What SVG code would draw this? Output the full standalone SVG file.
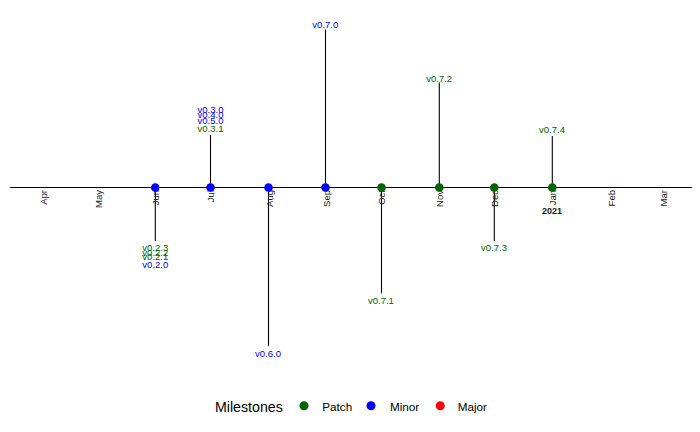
<svg xmlns="http://www.w3.org/2000/svg" width="700" height="432" viewBox="0 0 700 432">
<style>
text{font-family:"Liberation Sans",Arial,sans-serif}
.stem{stroke:#000;stroke-width:1.1}
.axis{stroke:#000;stroke-width:1.1}
.month{font-size:9.5px;fill:#1a1a1a;text-anchor:end}
.lbl{font-size:9.5px;text-anchor:middle}
.patch{fill:#006400}
.minor{fill:#0000FF}
.major{fill:#FF0000}
.leg{font-size:11.7px;fill:#000}
</style>
<rect width="700" height="432" fill="#fff"/>
<g id="connectors">
<line class="axis" x1="10" y1="187.5" x2="692" y2="187.5"/>
<line class="stem" x1="155.3" y1="187.5" x2="155.3" y2="241"/>
<line class="stem" x1="210.5" y1="187.5" x2="210.5" y2="135"/>
<line class="stem" x1="268.5" y1="187.5" x2="268.5" y2="346"/>
<line class="stem" x1="325.5" y1="187.5" x2="325.5" y2="29.5"/>
<line class="stem" x1="381.5" y1="187.5" x2="381.5" y2="293"/>
<line class="stem" x1="439.3" y1="187.5" x2="439.3" y2="82.5"/>
<line class="stem" x1="494.3" y1="187.5" x2="494.3" y2="241"/>
<line class="stem" x1="552.3" y1="187.5" x2="552.3" y2="136"/>
</g>
<g id="axis-labels">
<text class="month" transform="translate(46.6,190) rotate(-90)">Apr</text>
<text class="month" transform="translate(102.3,190) rotate(-90)">May</text>
<text class="month" transform="translate(159.3,190) rotate(-90)">Jun</text>
<text class="month" transform="translate(214,190) rotate(-90)">Jul</text>
<text class="month" transform="translate(272.6,190) rotate(-90)">Aug</text>
<text class="month" transform="translate(330,190) rotate(-90)">Sep</text>
<text class="month" transform="translate(385.3,190) rotate(-90)">Oct</text>
<text class="month" transform="translate(443.3,190) rotate(-90)">Nov</text>
<text class="month" transform="translate(498.3,190) rotate(-90)">Dec</text>
<text class="month" transform="translate(556,190) rotate(-90)">Jan</text>
<text class="month" transform="translate(615,190) rotate(-90)">Feb</text>
<text class="month" transform="translate(666.6,190) rotate(-90)">Mar</text>
<text x="552" y="213.5" font-size="9px" font-weight="bold" fill="#1a1a1a" text-anchor="middle">2021</text>
</g>
<g id="node-jun">
<circle class="minor" cx="155.3" cy="187.5" r="4.3"/>
<text class="lbl patch" x="155.3" y="251">v0.2.3</text>
<text class="lbl patch" x="155.3" y="255.5">v0.2.2</text>
<text class="lbl patch" x="155.3" y="259.5">v0.2.1</text>
<text class="lbl minor" x="155.3" y="267.5">v0.2.0</text>
</g>
<g id="node-jul">
<circle class="minor" cx="210.5" cy="187.5" r="4.3"/>
<text class="lbl minor" x="210.5" y="113.2">v0.3.0</text>
<text class="lbl minor" x="210.5" y="118.4">v0.4.0</text>
<text class="lbl minor" x="210.5" y="123.6">v0.5.0</text>
<text class="lbl patch" x="210.5" y="131.5">v0.3.1</text>
</g>
<g id="node-aug">
<circle class="minor" cx="268.5" cy="187.5" r="4.3"/>
<text class="lbl minor" x="268" y="356.7">v0.6.0</text>
</g>
<g id="node-sep">
<circle class="minor" cx="325.5" cy="187.5" r="4.3"/>
<text class="lbl minor" x="325.3" y="28.4">v0.7.0</text>
</g>
<g id="node-oct">
<circle class="patch" cx="381.5" cy="187.5" r="4.3"/>
<text class="lbl patch" x="380.9" y="304">v0.7.1</text>
</g>
<g id="node-nov">
<circle class="patch" cx="439.3" cy="187.5" r="4.3"/>
<text class="lbl patch" x="439.2" y="81.5">v0.7.2</text>
</g>
<g id="node-dec">
<circle class="patch" cx="494.3" cy="187.5" r="4.3"/>
<text class="lbl patch" x="494" y="250.7">v0.7.3</text>
</g>
<g id="node-jan">
<circle class="patch" cx="552.3" cy="187.5" r="4.3"/>
<text class="lbl patch" x="552" y="133.4">v0.7.4</text>
</g>
<g id="legend">
<text x="215" y="412" font-size="14.2px" fill="#000">Milestones</text>
<circle class="patch" cx="304" cy="405.8" r="4.5"/>
<text class="leg" x="322.3" y="411">Patch</text>
<circle class="minor" cx="371" cy="405.8" r="4.5"/>
<text class="leg" x="390" y="411">Minor</text>
<circle class="major" cx="440.3" cy="405.8" r="4.5"/>
<text class="leg" x="457.7" y="411">Major</text>
</g>
</svg>
